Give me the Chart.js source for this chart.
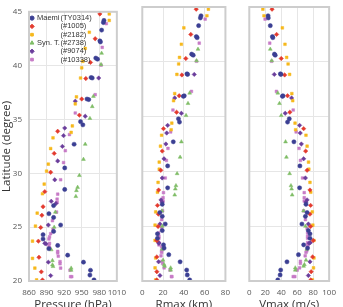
<!DOCTYPE html>
<html lang="en">
<head>
<meta charset="UTF-8">
<title>Latitude profiles</title>
<script src="https://cdn.jsdelivr.net/npm/chart.js"></script>
<style>
  body { margin: 0; width: 343px; height: 307px; overflow: hidden; background: #fff; position: relative; }
  .panel { position: absolute; top: 0; height: 312px; }
</style>
</head>
<body>
<div class="panel" style="left:0;width:133px"><canvas id="c1"></canvas></div>
<div class="panel" style="left:133px;width:104px"><canvas id="c2"></canvas></div>
<div class="panel" style="left:240px;width:103px"><canvas id="c3"></canvas></div>

<script>
// legend text
const seriesNames = ["Maemi", "", "", "Syn. T.", "", ""];
const seriesIds = ["(TY0314)", "(#1005)", "(#2182)", "(#2738)", "(#9074)", "(#10338)"];

// Maemi (TY0314)
const maemiLat = [44.2, 44.0, 43.3, 42.3, 42.2, 40.7, 40.6, 38.9, 38.85, 36.9, 36.85, 34.8, 34.5, 32.7, 30.5, 28.5, 27.0, 26.25, 25.9, 25.2, 24.6, 24.3, 23.9, 23.3, 23.0, 22.4, 21.75, 21.0, 20.55, 20.1];
const maemiP = [988, 987, 984, 981, 982, 974, 977, 966, 968, 959, 962, 948, 952, 937, 921, 921, 902, 894, 902, 914, 902, 884, 884, 909, 894, 926, 953, 965, 964, 971];
const maemiR = [56.5, 55.9, 54.2, 52, 52.8, 47.5, 49, 43, 43.6, 40.4, 39.5, 34.8, 35.8, 29.8, 24.4, 24.4, 19.2, 16.9, 19.2, 22.1, 19.2, 14.6, 14.6, 20.4, 21, 25.5, 36.4, 42.7, 43.3, 45.6];
const maemiV = [23.5, 23.8, 26.3, 29, 29.5, 31.5, 32.5, 39, 39.6, 42.2, 41.5, 50.1, 47.9, 55.9, 63.4, 63, 71, 72.4, 70.3, 65.9, 74, 76, 76, 68.1, 73, 61.6, 47.2, 39.3, 38.6, 35.7];

// #1005
const s1005Lat = [44.8, 42.5, 40.3, 38.8, 36.9, 35.4, 33.9, 31.85, 30.1, 28.3, 26.9, 26.1, 24.97, 23.7, 22.2, 20.85, 20.1];
const s1005P = [981, 973, 965, 957, 950, 946, 909, 903, 897, 887, 884, 882, 880, 876, 877, 881, 883];
const s1005R = [51.9, 46.7, 41.9, 38.1, 35.5, 33, 20.4, 19.2, 17.8, 15.7, 14.6, 15.5, 15.2, 14, 14, 14, 14];
const s1005V = [28.5, 34.2, 40, 44.3, 47.9, 50.8, 68.1, 70.6, 72.4, 76, 76.8, 76, 76.8, 80, 79.3, 77.5, 77];

// #2182
const s2182Lat = [44.8, 44.2, 43.1, 41.6, 40.4, 39.8, 38.85, 37.1, 36.45, 34.4, 33.8, 33.3, 32.3, 30.85, 30.2, 29.0, 28.1, 26.3, 25.1, 23.7, 22.1, 21.2, 20.1];
const s2182P = [997, 997, 963, 956, 952, 950, 948, 941, 939, 934, 932, 901, 897, 893, 890, 886, 883, 874, 871, 866, 866, 870, 873];
const s2182R = [63.6, 62.2, 40, 37.6, 35.8, 35, 33.3, 31.2, 30.1, 28.4, 27.8, 18.6, 17.5, 16.3, 16.3, 15.2, 14.6, 12.9, 12.3, 12.3, 12.9, 12.3, 12.9];
const s2182V = [17, 18.4, 41.4, 44.7, 46.8, 48.6, 50.5, 53.3, 54.4, 57.3, 58, 71, 72.4, 74.2, 74.6, 76, 77, 78.9, 79.6, 81, 81, 80.4, 79];

// Syn. T. #2738
const s2738Lat = [41.15, 40.1, 37.15, 36.2, 35.1, 32.7, 31.3, 29.8, 28.7, 28.4, 27.85, 26.4, 25.0, 22.9, 21.9, 21.5, 21.35, 21.2, 21.0];
const s2738P = [984, 983, 970, 968, 964, 956, 953, 946, 943, 941, 940, 905, 903, 898, 900, 900, 901, 932, 932];
const s2738R = [53.6, 52.2, 45.6, 44, 42.1, 37.6, 36.4, 33.5, 32.4, 31.8, 31.2, 19, 19.2, 19.2, 20, 21, 21.5, 27.3, 27.3];
const s2738V = [26.3, 28.1, 35.7, 37.8, 40, 45.4, 46.5, 50.5, 52.2, 53, 53.7, 68, 70.3, 72, 71, 69, 68, 57.6, 57.6];

// #9074
const s9074Lat = [38.85, 36.7, 35.3, 34.2, 33.5, 32.5, 31.15, 29.4, 27.4, 27.2, 25.2, 23.5, 23.45, 21.75, 20.5];
const s9074P = [979, 939, 956, 921, 919, 917, 909, 904, 898, 906, 893, 887, 889, 893, 897];
const s9074R = [50, 31.2, 37.6, 24.4, 23.5, 22.7, 20.9, 19.2, 18, 19, 17, 15.7, 16, 15.7, 17];
const s9074V = [31.3, 53, 45, 63, 63.8, 65.2, 68.1, 70.3, 72.4, 71, 74, 76.5, 75, 76, 74];

// #10338
const s10338Lat = [43.9, 41.7, 40.05, 37.3, 35.6, 33.6, 32.1, 31.0, 29.4, 28.06, 27.6, 27.3, 26.4, 25.6, 24.8, 24.4, 24.1, 23.9, 23.5, 23.3, 23.1, 22.75, 22.6, 22.3, 21.8, 21.6, 21.2, 21.0, 20.4, 20.4];
const s10338P = [992, 985, 983, 973, 939, 929, 922, 919, 914, 909, 908, 908, 907, 900, 901, 897, 895, 894, 895, 894, 895, 909, 909, 910, 913, 913, 914, 930, 931, 933];
const s10338R = [60.5, 54.8, 52.2, 47.3, 29.5, 27.3, 24.7, 23.2, 22.1, 20.4, 20, 20, 19.5, 18.6, 18.6, 15.7, 16, 16, 16, 16, 18.6, 18.6, 18.6, 18, 19, 19.5, 21, 26.7, 28, 28.5];
const s10338V = [19.8, 25.6, 28, 34, 55, 58.7, 62.3, 64.1, 66.7, 68.8, 68.8, 68.8, 68, 70.3, 72.4, 73, 73, 73, 73, 73, 73, 72, 71, 70, 64, 64, 63, 60, 55, 57];

const latTicks = [20, 25, 30, 35, 40, 45];

const series = [
  { lat: maemiLat, P: maemiP, R: maemiR, V: maemiV, color: "#3b3f93", shape: "circle", r: 2.1 },
  { lat: s1005Lat, P: s1005P, R: s1005R, V: s1005V, color: "#e33a2e", shape: "rectRot", r: 2.2 },
  { lat: s2182Lat, P: s2182P, R: s2182R, V: s2182V, color: "#f6b81c", shape: "rect", r: 1.9 },
  { lat: s2738Lat, P: s2738P, R: s2738R, V: s2738V, color: "#7fbd66", shape: "triangle", r: 2.2 },
  { lat: s9074Lat, P: s9074P, R: s9074R, V: s9074V, color: "#6a3d9b", shape: "rectRot", r: 2.2 },
  { lat: s10338Lat, P: s10338P, R: s10338R, V: s10338V, color: "#c77bc6", shape: "rect", r: 1.9 }
];

const tickFont = { family: "'Open Sans', sans-serif", size: 8 };
const titleFont = { family: "'Open Sans', sans-serif", size: 11.5 };

const framePlugin = {
  id: "frame",
  afterDraw(chart) {
    const a = chart.chartArea, ctx = chart.ctx;
    ctx.save();
    ctx.strokeStyle = "#cdcdcd";
    ctx.lineWidth = 2;
    ctx.strokeRect(a.left, a.top, a.right - a.left, a.bottom - a.top);
    ctx.restore();
  }
};

const legendPlugin = {
  id: "innerLegend",
  afterDatasetsDraw(chart) {
    const ctx = chart.ctx, a = chart.chartArea;
    ctx.save();
    ctx.font = "7.5px 'Liberation Sans', Arial, sans-serif";
    ctx.textBaseline = "middle";
    series.forEach((s, i) => {
      const y = a.top + 6.3 + i * 8.3;
      ctx.fillStyle = s.color;
      ctx.strokeStyle = s.color;
      Chart.helpers.drawPoint(ctx, { pointStyle: s.shape, radius: s.r, borderWidth: 0.5 }, a.left + 3, y);
      ctx.fillStyle = "#333";
      ctx.textAlign = "left";
      if (seriesNames[i]) ctx.fillText(seriesNames[i], a.left + 8, y);
      ctx.fillText(seriesIds[i], a.left + 31.5, y);
    });
    ctx.restore();
  }
};

function makeChart(id, key, xmin, xmax, step, title, first) {
  const datasets = series.map(s => ({
    data: s.lat.map((la, i) => ({ x: s[key][i], y: la })),
    backgroundColor: s.color,
    borderColor: s.color,
    borderWidth: 0.5,
    pointStyle: s.shape,
    pointRadius: s.r,
    pointHoverRadius: s.r
  }));
  return new Chart(document.getElementById(id), {
    type: "scatter",
    data: { datasets: datasets },
    options: {
      responsive: true,
      maintainAspectRatio: false,
      animation: false,
      events: [],
      layout: { padding: first ? { left: 0, right: 15, top: 7, bottom: 0 } : { left: 4, right: 7, top: 7, bottom: 0 } },
      plugins: { legend: { display: false }, tooltip: { enabled: false } },
      scales: {
        x: {
          type: "linear",
          min: xmin, max: xmax,
          ticks: { stepSize: step, autoSkip: false, maxRotation: 0, color: "#555", font: tickFont, padding: 7,
                   callback: v => String(v) },
          grid: { color: "#e6e6e6", drawTicks: false },
          border: { display: false },
          title: { display: true, text: title, color: "#333", font: titleFont, padding: { top: 0, bottom: 0 } },
          afterFit(s) { s.height = 31; }
        },
        y: {
          type: "linear",
          min: 20, max: 45,
          afterBuildTicks(s) { s.ticks = latTicks.map(v => ({ value: v })); },
          ticks: { display: first, color: "#555", font: tickFont, padding: 7 },
          grid: { color: "#e6e6e6", drawTicks: false },
          border: { display: false },
          title: { display: first, text: "Latitude (degree)", color: "#333", font: titleFont, padding: { top: 0, bottom: 0 } },
          afterFit(s) { s.width = first ? 29 : 0; }
        }
      }
    },
    plugins: first ? [framePlugin, legendPlugin] : [framePlugin]
  });
}

makeChart("c1", "P", 860, 1010, 30, "Pressure (hPa)", true);
makeChart("c2", "R", 0, 80, 20, "Rmax (km)", false);
makeChart("c3", "V", 0, 100, 20, "Vmax (m/s)", false);
</script>
</body>
</html>
